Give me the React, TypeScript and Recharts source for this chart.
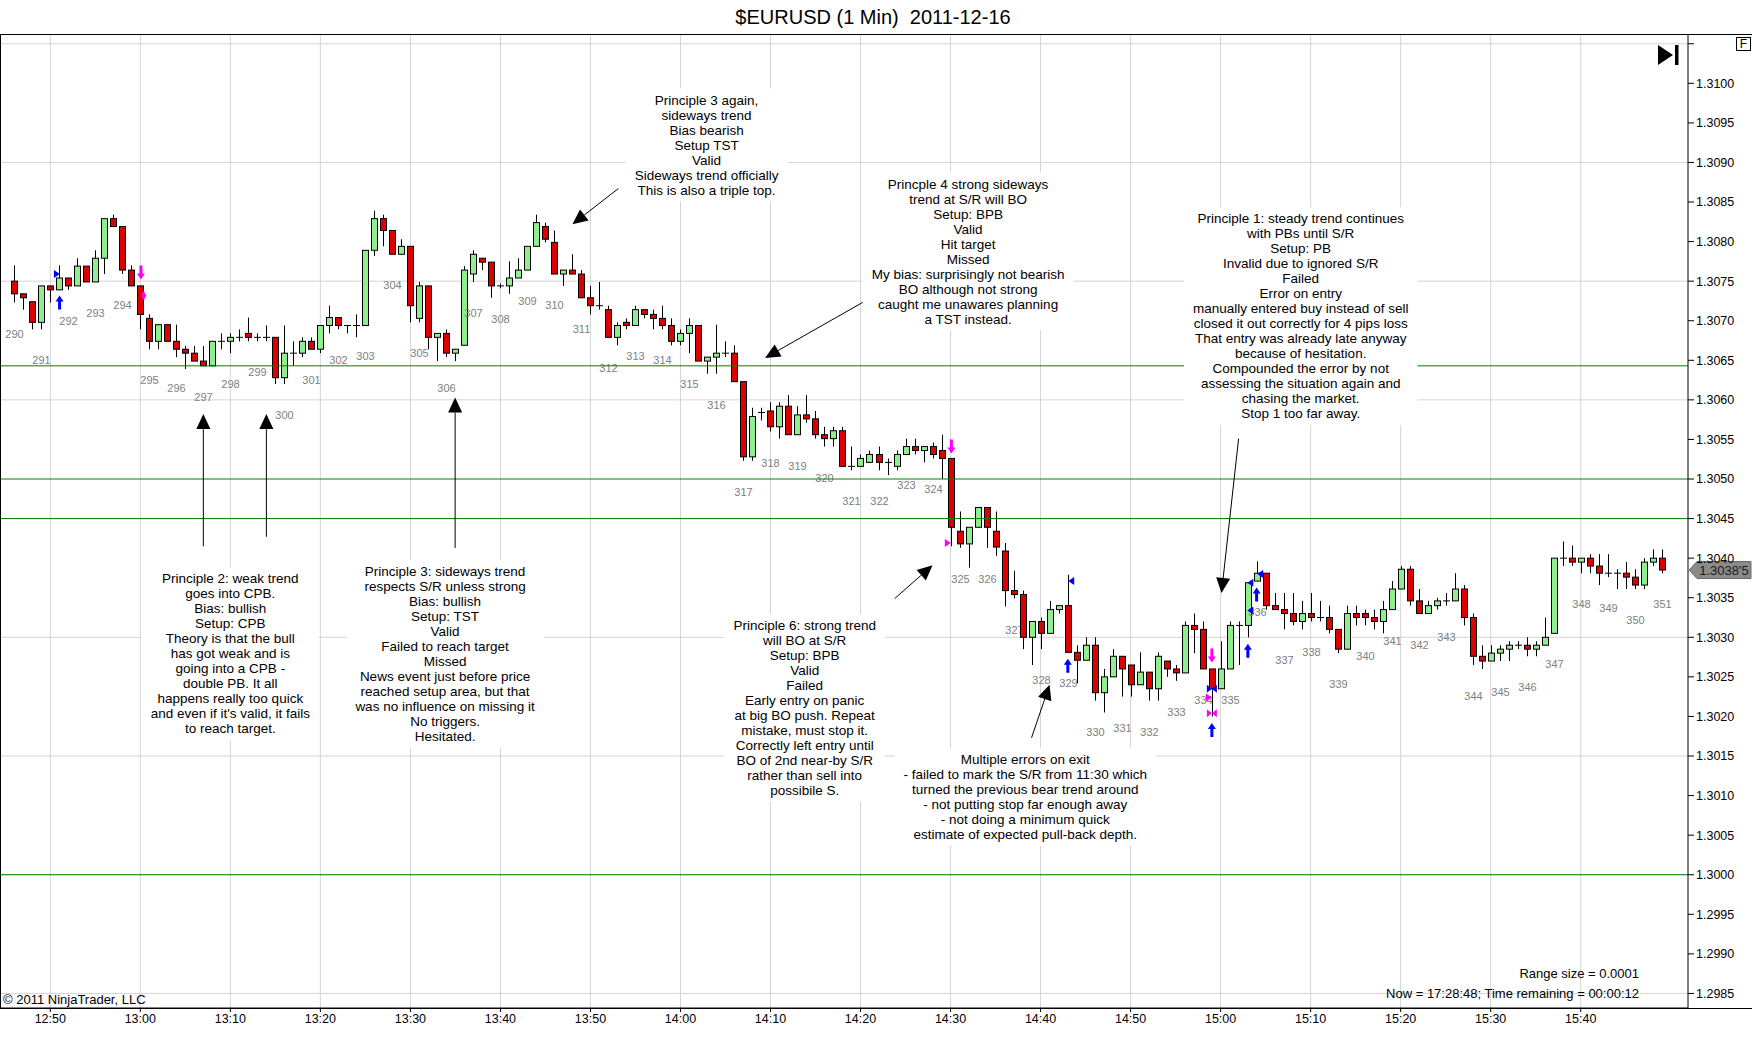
import React from 'react';
import {
  ComposedChart,
  Bar,
  Scatter,
  XAxis,
  YAxis,
  CartesianGrid,
  ReferenceLine,
  ReferenceDot,
} from 'recharts';

// 1 minute bars, index 0 = 12:46
const START_MINUTE = 12 * 60 + 46;
const BAR_COUNT_START = 290;

const OPEN = [
  1.3075, 1.30734, 1.30724, 1.30698, 1.30744, 1.30739, 1.30754, 1.30744, 1.30769, 1.30749,
  1.30779, 1.30829, 1.30819, 1.30764, 1.30744, 1.30703, 1.30674, 1.30695, 1.30674, 1.30664,
  1.30659, 1.30649, 1.30643, 1.30674, 1.30674, 1.30679, 1.30684, 1.30679, 1.30679, 1.30679,
  1.30628, 1.30659, 1.30659, 1.30674, 1.30664, 1.30694, 1.30704, 1.30694, 1.30694, 1.30694,
  1.30789, 1.30829, 1.30814, 1.30784, 1.30794, 1.30703, 1.30744, 1.30679, 1.30684, 1.30659,
  1.30669, 1.30759, 1.30779, 1.30774, 1.30744, 1.30744, 1.30754, 1.30764, 1.30794, 1.30819,
  1.30799, 1.30759, 1.30764, 1.30759, 1.30729, 1.30719, 1.30714, 1.30679, 1.30698, 1.30694,
  1.30714, 1.30708, 1.30703, 1.30694, 1.30674, 1.30684, 1.30694, 1.30649, 1.30654, 1.30659,
  1.30659, 1.30623, 1.30528, 1.30584, 1.30586, 1.30566, 1.30592, 1.30556, 1.30581, 1.30576,
  1.30556, 1.30551, 1.30561, 1.30516, 1.30516, 1.30521, 1.30531, 1.30521, 1.30516, 1.30531,
  1.30541, 1.30536, 1.30541, 1.30536, 1.30526, 1.30434, 1.30418, 1.30439, 1.30464, 1.30434,
  1.30409, 1.30359, 1.30354, 1.303, 1.3032, 1.30305, 1.30335, 1.3034, 1.30281, 1.30271,
  1.3029, 1.3023, 1.3025, 1.30276, 1.30265, 1.3024, 1.30256, 1.30235, 1.3027, 1.3026,
  1.30255, 1.30315, 1.3031, 1.3026, 1.30235, 1.3026, 1.30315, 1.30315, 1.30371, 1.30381,
  1.3034, 1.30335, 1.3033, 1.3032, 1.3033, 1.30325, 1.30325, 1.3031, 1.30285, 1.3033,
  1.3033, 1.30325, 1.3032, 1.30335, 1.30361, 1.30386, 1.30346, 1.3033, 1.3034, 1.30346,
  1.30346, 1.30361, 1.30325, 1.30276, 1.3027, 1.3028, 1.30285, 1.3029, 1.3029, 1.30285,
  1.3029, 1.30305, 1.304, 1.304, 1.30395, 1.304, 1.3039, 1.30381, 1.30381, 1.30381,
  1.30376, 1.30366, 1.30395, 1.304,
];

const HIGH = [
  1.3077, 1.30734, 1.30724, 1.30744, 1.30744, 1.3077, 1.30754, 1.30779, 1.30769, 1.30789,
  1.30829, 1.30834, 1.30819, 1.3077, 1.30744, 1.30708, 1.30695, 1.30695, 1.30695, 1.30668,
  1.30668, 1.30668, 1.30674, 1.30684, 1.30684, 1.30689, 1.30704, 1.30684, 1.30694, 1.30679,
  1.30694, 1.30674, 1.30679, 1.30679, 1.30694, 1.30719, 1.30704, 1.30694, 1.30708, 1.30789,
  1.30839, 1.30834, 1.30814, 1.30803, 1.30794, 1.30749, 1.30744, 1.30684, 1.30689, 1.30664,
  1.30769, 1.30789, 1.30779, 1.30774, 1.30747, 1.30775, 1.30779, 1.30794, 1.30834, 1.30824,
  1.30814, 1.30764, 1.30784, 1.30764, 1.30744, 1.30749, 1.30719, 1.30698, 1.30703, 1.30719,
  1.30714, 1.30714, 1.30719, 1.30703, 1.30689, 1.30703, 1.30694, 1.30654, 1.30695, 1.30674,
  1.30669, 1.30623, 1.3059, 1.3059, 1.30597, 1.30597, 1.30606, 1.30592, 1.30606, 1.30586,
  1.30566, 1.30566, 1.30566, 1.30541, 1.30531, 1.30536, 1.30541, 1.30526, 1.30536, 1.30551,
  1.30551, 1.30541, 1.30546, 1.30556, 1.30526, 1.30459, 1.30439, 1.30464, 1.30464, 1.30459,
  1.30419, 1.30384, 1.30359, 1.3032, 1.30325, 1.30346, 1.3034, 1.30379, 1.3029, 1.303,
  1.303, 1.3026, 1.30285, 1.30276, 1.30265, 1.30281, 1.30256, 1.30281, 1.3027, 1.30265,
  1.3032, 1.3033, 1.3032, 1.3026, 1.30295, 1.3032, 1.3032, 1.30369, 1.30396, 1.30381,
  1.30356, 1.30356, 1.30356, 1.30346, 1.30356, 1.30346, 1.3034, 1.3031, 1.3034, 1.3034,
  1.30335, 1.30335, 1.30346, 1.30371, 1.3039, 1.3039, 1.30361, 1.30346, 1.3035, 1.30356,
  1.30381, 1.30366, 1.3033, 1.3029, 1.3029, 1.3029, 1.30295, 1.30295, 1.303, 1.30295,
  1.30325, 1.304, 1.30421, 1.30416, 1.304, 1.30405, 1.30405, 1.30405, 1.30386, 1.30395,
  1.30386, 1.304, 1.30411, 1.30411,
];

const LOW = [
  1.30723, 1.30714, 1.30689, 1.30689, 1.30723, 1.30739, 1.30739, 1.30744, 1.30749, 1.30749,
  1.30759, 1.30819, 1.30759, 1.30744, 1.30689, 1.30664, 1.30664, 1.30674, 1.30654, 1.30639,
  1.30649, 1.30643, 1.30643, 1.30664, 1.30659, 1.30674, 1.30674, 1.30674, 1.30674, 1.3062,
  1.3062, 1.30643, 1.30654, 1.30664, 1.30659, 1.30684, 1.30689, 1.30684, 1.30679, 1.30694,
  1.30782, 1.30794, 1.30784, 1.30784, 1.30698, 1.30698, 1.30664, 1.30649, 1.30654, 1.30649,
  1.30669, 1.30749, 1.30764, 1.30729, 1.30741, 1.30734, 1.30754, 1.30764, 1.30794, 1.30799,
  1.30759, 1.30744, 1.30759, 1.30729, 1.30708, 1.30714, 1.30679, 1.30669, 1.30689, 1.30694,
  1.30703, 1.30689, 1.30689, 1.30669, 1.30669, 1.30659, 1.30649, 1.30633, 1.30633, 1.30654,
  1.30623, 1.30523, 1.30523, 1.30574, 1.3056, 1.30551, 1.30556, 1.30556, 1.30571, 1.30551,
  1.30541, 1.30541, 1.30516, 1.30511, 1.30516, 1.30521, 1.30511, 1.30505, 1.30511, 1.30531,
  1.30531, 1.30521, 1.30526, 1.305, 1.30415, 1.30413, 1.30388, 1.30439, 1.30413, 1.30403,
  1.30339, 1.30349, 1.30285, 1.30265, 1.30285, 1.30305, 1.3033, 1.30281, 1.30242, 1.30271,
  1.3022, 1.30205, 1.3025, 1.30225, 1.30225, 1.3024, 1.3022, 1.3022, 1.3025, 1.30245,
  1.30255, 1.3028, 1.3026, 1.302, 1.30235, 1.3026, 1.30265, 1.303, 1.30371, 1.30335,
  1.30335, 1.3031, 1.30315, 1.3031, 1.3032, 1.3032, 1.30305, 1.3028, 1.30285, 1.30315,
  1.30315, 1.3031, 1.30305, 1.30335, 1.30361, 1.3034, 1.3033, 1.3033, 1.30335, 1.3034,
  1.30346, 1.30315, 1.30265, 1.3026, 1.3027, 1.3027, 1.3027, 1.30285, 1.30276, 1.30276,
  1.3029, 1.30305, 1.3039, 1.3039, 1.30381, 1.30381, 1.30366, 1.30376, 1.30361, 1.30361,
  1.30361, 1.30361, 1.3039, 1.30381,
];

const CLOSE = [
  1.30734, 1.30729, 1.30698, 1.30744, 1.30739, 1.30754, 1.30744, 1.30769, 1.30749, 1.30779,
  1.30829, 1.30819, 1.30764, 1.30744, 1.30708, 1.30674, 1.30695, 1.30674, 1.30664, 1.30659,
  1.30649, 1.30643, 1.30674, 1.30674, 1.30679, 1.30679, 1.30679, 1.30679, 1.30679, 1.30628,
  1.30659, 1.30659, 1.30674, 1.30664, 1.30694, 1.30704, 1.30694, 1.30694, 1.30694, 1.30789,
  1.30829, 1.30814, 1.30784, 1.30794, 1.30719, 1.30744, 1.30679, 1.30684, 1.30659, 1.30664,
  1.30764, 1.30784, 1.30774, 1.30744, 1.30744, 1.30754, 1.30764, 1.30794, 1.30824, 1.30803,
  1.30759, 1.30764, 1.30759, 1.30729, 1.30719, 1.30719, 1.30679, 1.30694, 1.30694, 1.30714,
  1.30708, 1.30703, 1.30694, 1.30674, 1.30684, 1.30694, 1.30649, 1.30654, 1.30659, 1.30659,
  1.30623, 1.30528, 1.30579, 1.30584, 1.30566, 1.30592, 1.30556, 1.30581, 1.30576, 1.30556,
  1.30551, 1.30561, 1.30516, 1.30516, 1.30526, 1.30531, 1.30521, 1.30521, 1.30531, 1.30541,
  1.30536, 1.30541, 1.30531, 1.30526, 1.30439, 1.30418, 1.30439, 1.30464, 1.30439, 1.30414,
  1.30359, 1.30354, 1.303, 1.3032, 1.30305, 1.30335, 1.3034, 1.30281, 1.30271, 1.3029,
  1.3023, 1.3025, 1.30276, 1.3026, 1.3024, 1.30256, 1.30235, 1.30276, 1.3026, 1.30255,
  1.30315, 1.3031, 1.3026, 1.30235, 1.3026, 1.30315, 1.30315, 1.30369, 1.30381, 1.3034,
  1.30335, 1.3033, 1.3032, 1.3033, 1.30325, 1.30325, 1.3031, 1.30285, 1.3033, 1.30325,
  1.30325, 1.3032, 1.30335, 1.30361, 1.30386, 1.30346, 1.3033, 1.3034, 1.30346, 1.30346,
  1.30361, 1.30325, 1.30276, 1.3027, 1.3028, 1.30285, 1.3029, 1.3029, 1.30285, 1.3029,
  1.303, 1.304, 1.304, 1.30395, 1.304, 1.3039, 1.30381, 1.30381, 1.30381, 1.30376,
  1.30366, 1.30395, 1.304, 1.30385,
];

const TIME_TICKS = [4, 14, 24, 34, 44, 54, 64, 74, 84, 94, 104, 114, 124, 134, 144, 154, 164, 174];
const PRICE_TICKS = [
  1.2985, 1.299, 1.2995, 1.3, 1.3005, 1.301, 1.3015, 1.302, 1.3025, 1.303, 1.3035, 1.304,
  1.3045, 1.305, 1.3055, 1.306, 1.3065, 1.307, 1.3075, 1.308, 1.3085, 1.309, 1.3095, 1.31, 1.3105,
];
const GRID_PRICES = [1.2985, 1.3, 1.3015, 1.303, 1.3045, 1.306, 1.3075, 1.309, 1.3105];
const SR_LEVELS = [1.30643, 1.305, 1.3045, 1.3];
const LAST_PRICE = 1.30385;

// trade markers: bar position, price, kind
const MARKERS = [
  { i: 4.74, p: 1.30759, kind: 'buyTriR' },
  { i: 5.03, p: 1.30723, kind: 'buyArrow' },
  { i: 14.07, p: 1.30761, kind: 'sellArrow' },
  { i: 14.37, p: 1.30732, kind: 'sellDiamond' },
  { i: 104.1, p: 1.30541, kind: 'sellArrow' },
  { i: 103.7, p: 1.30419, kind: 'sellTriR' },
  { i: 117.4, p: 1.30371, kind: 'buyTriL' },
  { i: 117.03, p: 1.30264, kind: 'buyArrow' },
  { i: 133.03, p: 1.30277, kind: 'sellArrow' },
  { i: 133.03, p: 1.30235, kind: 'buyBow' },
  { i: 132.7, p: 1.30224, kind: 'sellTriR' },
  { i: 133.03, p: 1.30204, kind: 'sellBow' },
  { i: 133.03, p: 1.30183, kind: 'buyArrow' },
  { i: 137.03, p: 1.30283, kind: 'buyArrow' },
  { i: 138.0, p: 1.30354, kind: 'buyArrow' },
  { i: 137.3, p: 1.30369, kind: 'buyTriL' },
  { i: 138.4, p: 1.3038, kind: 'buyTriL' },
  { i: 137.3, p: 1.30334, kind: 'buyTriL' },
];

// drawn arrows: from (x1, y1) to head at (x2, y2)
const ARROWS = [
  { x1: 67.1, y1: 1.30867, x2: 62.0, y2: 1.30822 },
  { x1: 95.3, y1: 1.3073, x2: 83.4, y2: 1.30653 },
  { x1: 136.0, y1: 1.30551, x2: 134.1, y2: 1.30356 },
  { x1: 21.0, y1: 1.30415, x2: 21.0, y2: 1.30582 },
  { x1: 28.0, y1: 1.30427, x2: 28.0, y2: 1.30582 },
  { x1: 48.97, y1: 1.30413, x2: 48.97, y2: 1.30603 },
  { x1: 97.8, y1: 1.30349, x2: 102.0, y2: 1.30391 },
  { x1: 113.0, y1: 1.30173, x2: 115.0, y2: 1.3024 },
];

const NOTES = [
  {
    x: 76.9, y: 1.30979,
    lines: ['Principle 3 again,', 'sideways trend', 'Bias bearish', 'Setup TST', 'Valid',
      'Sideways trend officially', 'This is also a triple top.'],
  },
  {
    x: 105.95, y: 1.30873,
    lines: ['Princple 4 strong sideways', 'trend at S/R will BO', 'Setup: BPB', 'Valid', 'Hit target',
      'Missed', 'My bias: surprisingly not bearish', 'BO although not strong',
      'caught me unawares planning', 'a TST instead.'],
  },
  {
    x: 142.9, y: 1.30829,
    lines: ['Principle 1: steady trend continues', 'with PBs until S/R', 'Setup: PB',
      'Invalid due to ignored S/R', 'Failed', 'Error on entry', 'manually entered buy instead of sell',
      'closed it out correctly for 4 pips loss', 'That entry was already late anyway',
      'because of hesitation.', 'Compounded the error by not', 'assessing the situation again and',
      'chasing the market.', 'Stop 1 too far away.'],
  },
  {
    x: 24.0, y: 1.30374,
    lines: ['Principle 2: weak trend', 'goes into CPB.', 'Bias: bullish', 'Setup: CPB',
      'Theory is that the bull', 'has got weak and is', 'going into a CPB -', 'double PB. It all',
      'happens really too quick', "and even if it's valid, it fails", 'to reach target.'],
  },
  {
    x: 47.85, y: 1.30383,
    lines: ['Principle 3: sideways trend', 'respects S/R unless strong', 'Bias: bullish', 'Setup: TST',
      'Valid', 'Failed to reach target', 'Missed', 'News event just before price',
      'reached setup area, but that', 'was no influence on missing it', 'No triggers.', 'Hesitated.'],
  },
  {
    x: 87.8, y: 1.30315,
    lines: ['Principle 6: strong trend', 'will BO at S/R', 'Setup: BPB', 'Valid', 'Failed',
      'Early entry on panic', 'at big BO push. Repeat', 'mistake, must stop it.',
      'Correctly left entry until', 'BO of 2nd near-by S/R', 'rather than sell into', 'possibile S.'],
  },
  {
    x: 112.3, y: 1.30146,
    lines: ['Multiple errors on exit', '- failed to mark the S/R from 11:30 which',
      'turned the previous bear trend around', '- not putting stop far enough away',
      '- not doing a minimum quick', 'estimate of expected pull-back depth.'],
  },
];

const FONT = '"Liberation Sans", Arial, sans-serif';
const NOTE_SIZE = 13.5;
const LINE_H = 15;

const data = OPEN.map((o, i) => ({ i, o, h: HIGH[i], l: LOW[i], c: CLOSE[i] }));

const timeLabel = (i: number) => {
  const m = START_MINUTE + i;
  return `${Math.floor(m / 60)}:${String(m % 60).padStart(2, '0')}`;
};

let ctx: CanvasRenderingContext2D | null = null;
const textWidth = (s: string) => {
  if (!ctx && typeof document !== 'undefined') {
    ctx = document.createElement('canvas').getContext('2d');
  }
  if (!ctx) return s.length * 6.6;
  ctx.font = `${NOTE_SIZE}px ${FONT}`;
  return ctx.measureText(s).width;
};

const Candle = (props: any) => {
  const { x, y, width, height, payload, index } = props;
  const { o, h, l, c } = payload;
  const cx = Math.round(x + width / 2) + 0.5;
  const py = (p: number) => (h === l ? y : y + ((h - p) / (h - l)) * height);
  const top = py(Math.max(o, c));
  const bot = py(Math.min(o, c));
  const flat = Math.abs(o - c) < 1e-7;
  return (
    <g>
      <line x1={cx} x2={cx} y1={y} y2={y + height} stroke="#000" strokeWidth={1} />
      {flat ? (
        <line x1={cx - 3.5} x2={cx + 3.5} y1={top} y2={top} stroke="#000" strokeWidth={1} />
      ) : (
        <rect
          x={cx - 3}
          y={top}
          width={6}
          height={Math.max(bot - top, 1)}
          fill={c > o ? '#90ee90' : '#dd0000'}
          stroke="#000"
          strokeWidth={1}
        />
      )}
      {index % 3 === 0 && (
        <text x={cx} y={y + height + 35} textAnchor="middle" fontSize={11} fill="#808080">
          {BAR_COUNT_START + index / 3}
        </text>
      )}
    </g>
  );
};

const Marker = (props: any) => {
  const { cx, cy, payload } = props;
  const blue = '#0000ff';
  const pink = '#ff00ff';
  switch (payload.kind) {
    case 'buyArrow':
      return (
        <path
          d={`M${cx},${cy - 7} L${cx + 4},${cy - 1} L${cx + 1.5},${cy - 1} L${cx + 1.5},${cy + 7} L${cx - 1.5},${cy + 7} L${cx - 1.5},${cy - 1} L${cx - 4},${cy - 1} Z`}
          fill={blue}
        />
      );
    case 'sellArrow':
      return (
        <path
          d={`M${cx},${cy + 7} L${cx + 4},${cy + 1} L${cx + 1.5},${cy + 1} L${cx + 1.5},${cy - 7} L${cx - 1.5},${cy - 7} L${cx - 1.5},${cy + 1} L${cx - 4},${cy + 1} Z`}
          fill={pink}
        />
      );
    case 'buyTriR':
      return <path d={`M${cx - 3},${cy - 4} L${cx + 3},${cy} L${cx - 3},${cy + 4} Z`} fill={blue} />;
    case 'sellTriR':
      return <path d={`M${cx - 3},${cy - 4} L${cx + 3},${cy} L${cx - 3},${cy + 4} Z`} fill={pink} />;
    case 'buyTriL':
      return <path d={`M${cx + 3},${cy - 4} L${cx - 3},${cy} L${cx + 3},${cy + 4} Z`} fill={blue} />;
    case 'buyBow':
      return (
        <path
          d={`M${cx - 5},${cy - 4} L${cx},${cy} L${cx - 5},${cy + 4} Z M${cx + 5},${cy - 4} L${cx},${cy} L${cx + 5},${cy + 4} Z`}
          fill={blue}
        />
      );
    case 'sellBow':
      return (
        <path
          d={`M${cx - 5},${cy - 4} L${cx},${cy} L${cx - 5},${cy + 4} Z M${cx + 5},${cy - 4} L${cx},${cy} L${cx + 5},${cy + 4} Z`}
          fill={pink}
        />
      );
    case 'sellDiamond':
      return <path d={`M${cx},${cy - 5} L${cx + 2.5},${cy} L${cx},${cy + 5} L${cx - 2.5},${cy} Z`} fill={pink} />;
    default:
      return <g />;
  }
};

const ArrowShape = (props: any) => {
  const x1 = Number(props.x1);
  const y1 = Number(props.y1);
  const x2 = Number(props.x2);
  const y2 = Number(props.y2);
  const ang = Math.atan2(y2 - y1, x2 - x1);
  const len = 15;
  const half = 7;
  const bx = x2 - len * Math.cos(ang);
  const by = y2 - len * Math.sin(ang);
  const nx = -Math.sin(ang) * half;
  const ny = Math.cos(ang) * half;
  return (
    <g>
      <line x1={x1} y1={y1} x2={bx} y2={by} stroke="#000" strokeWidth={1} />
      <polygon points={`${x2},${y2} ${bx + nx},${by + ny} ${bx - nx},${by - ny}`} fill="#000" />
    </g>
  );
};

const noteShape = (lines: string[]) => (props: any) => {
  const { cx, cy } = props;
  const w = Math.max(...lines.map(textWidth)) + 18;
  const h = lines.length * LINE_H + 8;
  return (
    <g>
      <rect x={cx - w / 2} y={cy - LINE_H / 2 - 4} width={w} height={h} fill="#fff" />
      {lines.map((s, k) => (
        <text
          key={k}
          x={cx}
          y={cy + k * LINE_H}
          dy="0.35em"
          textAnchor="middle"
          fontSize={NOTE_SIZE}
          fill="#000"
        >
          {s}
        </text>
      ))}
    </g>
  );
};

const PriceTag = (props: any) => {
  const { cx, cy } = props;
  const s = LAST_PRICE.toFixed(5);
  const label = `${s.slice(0, -1)}'${s.slice(-1)}`;
  return (
    <g>
      <polygon
        points={`${cx + 1},${cy} ${cx + 9},${cy - 8.5} ${cx + 63},${cy - 8.5} ${cx + 63},${cy + 8.5} ${cx + 9},${cy + 8.5}`}
        fill="#8a8a8a"
        stroke="#6a6a6a"
      />
      <text x={cx + 36} y={cy} dy="0.35em" textAnchor="middle" fontSize={13} fill="#1a1a1a">
        {label}
      </text>
    </g>
  );
};

const App = () => {
  return (
    <div
      style={{
        position: 'absolute',
        left: 0,
        top: 0,
        width: 1752,
        height: 1064,
        background: '#fff',
        fontFamily: FONT,
        overflow: 'hidden',
      }}
    >
      <ComposedChart
        width={1752}
        height={1064}
        data={data}
        margin={{ top: 34, right: 0, bottom: 0, left: 0 }}
      >
        <CartesianGrid
          stroke="#d4d4d4"
          horizontalValues={GRID_PRICES}
          verticalValues={TIME_TICKS}
        />
        <XAxis
          dataKey="i"
          type="number"
          domain={[-1.588, 185.92]}
          allowDataOverflow
          ticks={TIME_TICKS}
          tickFormatter={timeLabel}
          height={56}
          tickSize={4}
          tick={{ fontSize: 12.5, fill: '#000' }}
          stroke="#000"
        />
        <YAxis
          orientation="right"
          type="number"
          domain={[1.298316, 1.310623]}
          allowDataOverflow
          ticks={PRICE_TICKS}
          tickFormatter={(v: number) => (v > 1.31001 ? '' : v.toFixed(4))}
          width={64}
          tickSize={6}
          tick={{ fontSize: 12.5, fill: '#000' }}
          stroke="#000"
        />
        {SR_LEVELS.map((p) => (
          <ReferenceLine key={p} y={p} stroke="#008000" strokeWidth={1} />
        ))}
        <Bar
          dataKey={(d: any) => [d.l, d.h]}
          barSize={7}
          shape={Candle}
          isAnimationActive={false}
        />
        <Scatter data={MARKERS} dataKey="p" shape={Marker} isAnimationActive={false} />
        {ARROWS.map((a, k) => (
          <ReferenceLine
            key={`a${k}`}
            segment={[{ x: a.x1, y: a.y1 }, { x: a.x2, y: a.y2 }]}
            shape={ArrowShape}
            ifOverflow="visible"
          />
        ))}
        {NOTES.map((n, k) => (
          <ReferenceDot key={`n${k}`} x={n.x} y={n.y} shape={noteShape(n.lines)} ifOverflow="visible" />
        ))}
        <ReferenceDot x={185.92} y={LAST_PRICE} shape={PriceTag} ifOverflow="visible" />
      </ComposedChart>

      <svg
        width={1752}
        height={1064}
        style={{ position: 'absolute', left: 0, top: 0, pointerEvents: 'none' }}
      >
        <text x={873} y={17} dy="0.35em" textAnchor="middle" fontSize={20} fill="#000" style={{ whiteSpace: 'pre' }}>
          $EURUSD (1 Min)  2011-12-16
        </text>
        <line x1={0} x2={1752} y1={34.5} y2={34.5} stroke="#000" />
        <line x1={0.5} x2={0.5} y1={34} y2={1008} stroke="#000" />
        <line x1={0} x2={1752} y1={1008.5} y2={1008.5} stroke="#000" />
        <polygon points="1658,45 1673,55 1658,65" fill="#000" />
        <rect x={1675} y={45} width={3.5} height={20} fill="#000" />
        <rect x={1736.5} y={37.5} width={14} height={13} fill="#fff" stroke="#000" />
        <text x={1743.5} y={44} dy="0.35em" textAnchor="middle" fontSize={12} fill="#000">
          F
        </text>
        <text x={3} y={999} dy="0.35em" fontSize={13} fill="#000">
          © 2011 NinjaTrader, LLC
        </text>
        <text x={1639} y={973} dy="0.35em" textAnchor="end" fontSize={13} fill="#000">
          Range size = 0.0001
        </text>
        <text x={1639} y={993} dy="0.35em" textAnchor="end" fontSize={13} fill="#000">
          Now = 17:28:48; Time remaining = 00:00:12
        </text>
      </svg>
    </div>
  );
};

export default App;
